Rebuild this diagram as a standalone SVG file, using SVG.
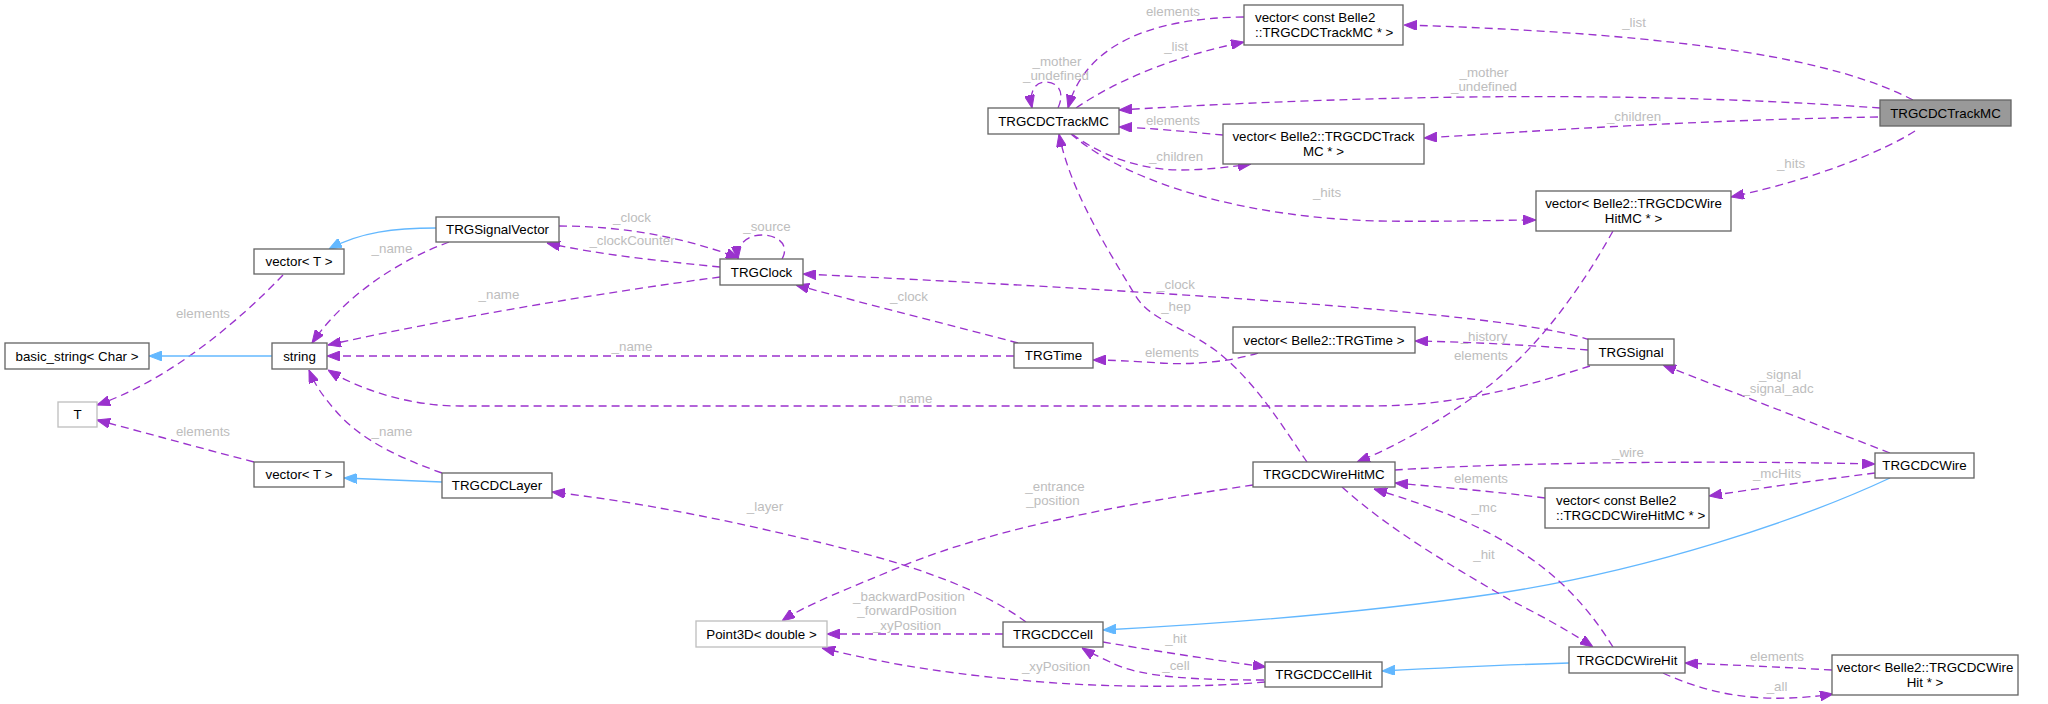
<svg xmlns="http://www.w3.org/2000/svg" width="2048" height="704" viewBox="0 0 2048 704">
<style>
.n rect{fill:#fff;stroke:#666;stroke-width:1.33}
.n.l rect{stroke:#bfbfbf}
.n.root rect{fill:#999}
.n text{font-family:"Liberation Sans",Arial,sans-serif;font-size:13.33px;fill:#000;text-anchor:middle}
.n text.la{text-anchor:start}
.e path{fill:none;stroke:#9a32cd;stroke-width:1.33;stroke-dasharray:8,5;marker-end:url(#ap)}
.e path.b{stroke:#63b8ff;stroke-dasharray:none;marker-end:url(#ab)}
.lb text{font-family:"Liberation Sans",Arial,sans-serif;font-size:13.33px;fill:#bdbdbd;text-anchor:middle}
</style>
<defs>
<marker id="ap" markerUnits="userSpaceOnUse" markerWidth="13" markerHeight="10" viewBox="0 0 13 10" refX="13" refY="5" orient="auto"><path d="M0,0 L13,5 L0,10 Z" fill="#9a32cd" stroke="#9a32cd"/></marker>
<marker id="ab" markerUnits="userSpaceOnUse" markerWidth="13" markerHeight="10" viewBox="0 0 13 10" refX="13" refY="5" orient="auto"><path d="M0,0 L13,5 L0,10 Z" fill="#63b8ff" stroke="#63b8ff"/></marker>
</defs>
<rect width="2048" height="704" fill="#fff"/>
<g id="edges" class="e">
<path d="M1913,100 C1840,62 1700,34 1404,25"/>
<path d="M1880,108 C1700,95 1450,90 1119,110"/>
<path d="M1878,117 C1700,120 1550,130 1424,138"/>
<path d="M1915,131 C1885,150 1820,178 1731,197"/>
<path d="M1244,17 C1150,18 1085,45 1068,108"/>
<path d="M1076,108 C1120,78 1180,55 1244,42"/>
<path d="M1058,108 C1066,90 1056,82 1046,82 C1034,82 1029,93 1032,108"/>
<path d="M1223,135 C1190,132 1150,128 1119,127"/>
<path d="M1072,134 C1100,155 1140,170 1180,170 C1205,170 1230,167 1251,164"/>
<path d="M1071,134 C1130,185 1250,218 1380,221 C1450,222 1500,220 1536,220"/>
<path d="M1307,462 C1285,430 1255,380 1215,350 C1180,325 1150,320 1135,295 C1105,245 1070,190 1059,134"/>
<path d="M1613,231 C1580,290 1540,345 1490,385 C1450,415 1400,445 1357,462"/>
<path d="M1588,350 C1530,345 1470,342 1415,341"/>
<path d="M1258,353 C1230,362 1190,365 1160,363 C1130,361 1110,360 1093,360"/>
<path d="M1590,340 C1540,322 1350,300 803,274"/>
<path d="M1018,343 C950,325 870,305 796,285"/>
<path d="M1014,356 L327,356"/>
<path d="M1590,366 C1530,385 1460,406 1370,406 L460,406 C410,406 360,390 328,370"/>
<path d="M720,277 C600,293 450,318 328,345"/>
<path d="M449,242 C400,260 345,295 312,343"/>
<path d="M559,226 C620,226 680,236 739,258"/>
<path d="M720,267 C670,262 600,255 547,243"/>
<path d="M782,259 C790,245 778,235 762,235 C748,235 736,244 738,259"/>
<path class="b" d="M436,228 C395,228 360,232 329,249"/>
<path d="M283,275 C240,320 170,380 97,405"/>
<path class="b" d="M272,356 L149,356"/>
<path d="M254,462 C200,448 150,434 97,420"/>
<path d="M442,473 C400,458 360,440 335,410 C322,395 315,385 309,370"/>
<path class="b" d="M442,482 L344,478"/>
<path d="M1026,622 C990,595 930,570 850,550 C740,522 640,502 552,492"/>
<path d="M1253,485 C1150,500 1000,525 900,567 C850,588 805,605 782,621"/>
<path d="M1003,634 L827,634"/>
<path d="M1265,682 C1200,688 1100,688 1020,680 C930,672 870,660 822,648"/>
<path d="M1103,642 C1150,650 1200,658 1266,667"/>
<path d="M1264,680 C1200,680 1140,678 1110,662 C1100,657 1090,653 1082,648"/>
<path class="b" d="M1890,478 C1800,520 1650,570 1500,593 C1350,615 1200,625 1103,630"/>
<path class="b" d="M1569,663 C1500,665 1440,668 1382,671"/>
<path d="M1395,470 C1500,463 1700,460 1875,464"/>
<path d="M1875,473 C1820,480 1760,488 1709,496"/>
<path d="M1545,498 C1500,492 1440,487 1395,483"/>
<path d="M1613,647 C1590,610 1560,575 1510,545 C1470,520 1420,503 1374,489"/>
<path d="M1342,487 C1390,530 1450,565 1510,600 C1550,620 1575,635 1593,647"/>
<path d="M1890,453 L1663,365"/>
<path d="M1832,670 C1780,667 1730,665 1685,663"/>
<path d="M1663,673 C1700,690 1740,700 1790,698 C1810,697 1820,696 1833,694"/>
</g>
<g id="labels" class="lb">
<text x="1634" y="27">_list</text>
<text x="1484" y="77">_mother</text>
<text x="1484" y="91">_undefined</text>
<text x="1634" y="121">_children</text>
<text x="1791" y="168">_hits</text>
<text x="1173" y="16">elements</text>
<text x="1176" y="51">_list</text>
<text x="1057" y="66">_mother</text>
<text x="1056" y="80">_undefined</text>
<text x="1173" y="125">elements</text>
<text x="1176" y="161">_children</text>
<text x="1327" y="197">_hits</text>
<text x="1176" y="311">_hep</text>
<text x="1481" y="360">elements</text>
<text x="1484" y="341">_history</text>
<text x="1172" y="357">elements</text>
<text x="1176" y="289">_clock</text>
<text x="909" y="301">_clock</text>
<text x="632" y="351">_name</text>
<text x="912" y="403">_name</text>
<text x="499" y="299">_name</text>
<text x="392" y="253">_name</text>
<text x="632" y="222">_clock</text>
<text x="632" y="245">_clockCounter</text>
<text x="767" y="231">_source</text>
<text x="203" y="318">elements</text>
<text x="203" y="436">elements</text>
<text x="392" y="436">_name</text>
<text x="765" y="511">_layer</text>
<text x="1055" y="491">_entrance</text>
<text x="1053" y="505">_position</text>
<text x="909" y="601">_backwardPosition</text>
<text x="907" y="615">_forwardPosition</text>
<text x="907" y="630">_xyPosition</text>
<text x="1056" y="671">_xyPosition</text>
<text x="1176" y="643">_hit</text>
<text x="1176" y="670">_cell</text>
<text x="1628" y="457">_wire</text>
<text x="1777" y="478">_mcHits</text>
<text x="1481" y="483">elements</text>
<text x="1484" y="512">_mc</text>
<text x="1484" y="559">_hit</text>
<text x="1780" y="379">_signal</text>
<text x="1778" y="393">_signal_adc</text>
<text x="1777" y="661">elements</text>
<text x="1777" y="691">_all</text>
</g>
<g id="n_root" class="n root"><rect x="1880" y="100" width="131" height="26"/><text x="1945.5" y="118">TRGCDCTrackMC</text></g>
<g id="n_trackmc" class="n"><rect x="988" y="108" width="131" height="26"/><text x="1053.5" y="126">TRGCDCTrackMC</text></g>
<g id="n_vec_const_trackmc" class="n"><rect x="1244" y="5" width="159" height="40"/><text class="la" x="1255" y="21.5">vector&lt; const Belle2</text><text class="la" x="1255" y="36.5">::TRGCDCTrackMC * &gt;</text></g>
<g id="n_vec_trackmc" class="n"><rect x="1223" y="124" width="201" height="40"/><text x="1323.5" y="140.5">vector&lt; Belle2::TRGCDCTrack</text><text x="1323.5" y="155.5">MC * &gt;</text></g>
<g id="n_vec_wirehitmc" class="n"><rect x="1536" y="191" width="195" height="40"/><text x="1633.5" y="207.5">vector&lt; Belle2::TRGCDCWire</text><text x="1633.5" y="222.5">HitMC * &gt;</text></g>
<g id="n_signalvector" class="n"><rect x="436" y="217" width="123" height="25"/><text x="497.5" y="234">TRGSignalVector</text></g>
<g id="n_vector_t1" class="n"><rect x="254" y="249" width="90" height="25"/><text x="299" y="266">vector&lt; T &gt;</text></g>
<g id="n_basic_string" class="n"><rect x="5" y="343" width="144" height="26"/><text x="77" y="361">basic_string&lt; Char &gt;</text></g>
<g id="n_string" class="n"><rect x="272" y="343" width="55" height="26"/><text x="299.5" y="361">string</text></g>
<g id="n_t" class="n l"><rect x="58" y="402" width="39" height="25"/><text x="77.5" y="419">T</text></g>
<g id="n_vector_t2" class="n"><rect x="254" y="462" width="90" height="25"/><text x="299" y="479">vector&lt; T &gt;</text></g>
<g id="n_layer" class="n"><rect x="442" y="473" width="110" height="25"/><text x="497" y="490">TRGCDCLayer</text></g>
<g id="n_clock" class="n"><rect x="720" y="259" width="83" height="26"/><text x="761.5" y="277">TRGClock</text></g>
<g id="n_time" class="n"><rect x="1014" y="343" width="79" height="25"/><text x="1053.5" y="360">TRGTime</text></g>
<g id="n_vec_time" class="n"><rect x="1233" y="327" width="182" height="26"/><text x="1324" y="345">vector&lt; Belle2::TRGTime &gt;</text></g>
<g id="n_signal" class="n"><rect x="1588" y="339" width="86" height="26"/><text x="1631" y="357">TRGSignal</text></g>
<g id="n_wirehitmc" class="n"><rect x="1253" y="462" width="142" height="25"/><text x="1324" y="479">TRGCDCWireHitMC</text></g>
<g id="n_wire" class="n"><rect x="1875" y="453" width="99" height="25"/><text x="1924.5" y="470">TRGCDCWire</text></g>
<g id="n_vec_const_wirehitmc" class="n"><rect x="1545" y="488" width="164" height="40"/><text class="la" x="1556" y="504.5">vector&lt; const Belle2</text><text class="la" x="1556" y="519.5">::TRGCDCWireHitMC * &gt;</text></g>
<g id="n_point3d" class="n l"><rect x="696" y="621" width="131" height="26"/><text x="761.5" y="639">Point3D&lt; double &gt;</text></g>
<g id="n_cell" class="n"><rect x="1003" y="622" width="100" height="25"/><text x="1053" y="639">TRGCDCCell</text></g>
<g id="n_cellhit" class="n"><rect x="1265" y="662" width="117" height="25"/><text x="1323.5" y="679">TRGCDCCellHit</text></g>
<g id="n_wirehit" class="n"><rect x="1569" y="647" width="116" height="26"/><text x="1627" y="665">TRGCDCWireHit</text></g>
<g id="n_vec_wirehit" class="n"><rect x="1832" y="655" width="186" height="40"/><text x="1925" y="671.5">vector&lt; Belle2::TRGCDCWire</text><text x="1925" y="686.5">Hit * &gt;</text></g>
</svg>
